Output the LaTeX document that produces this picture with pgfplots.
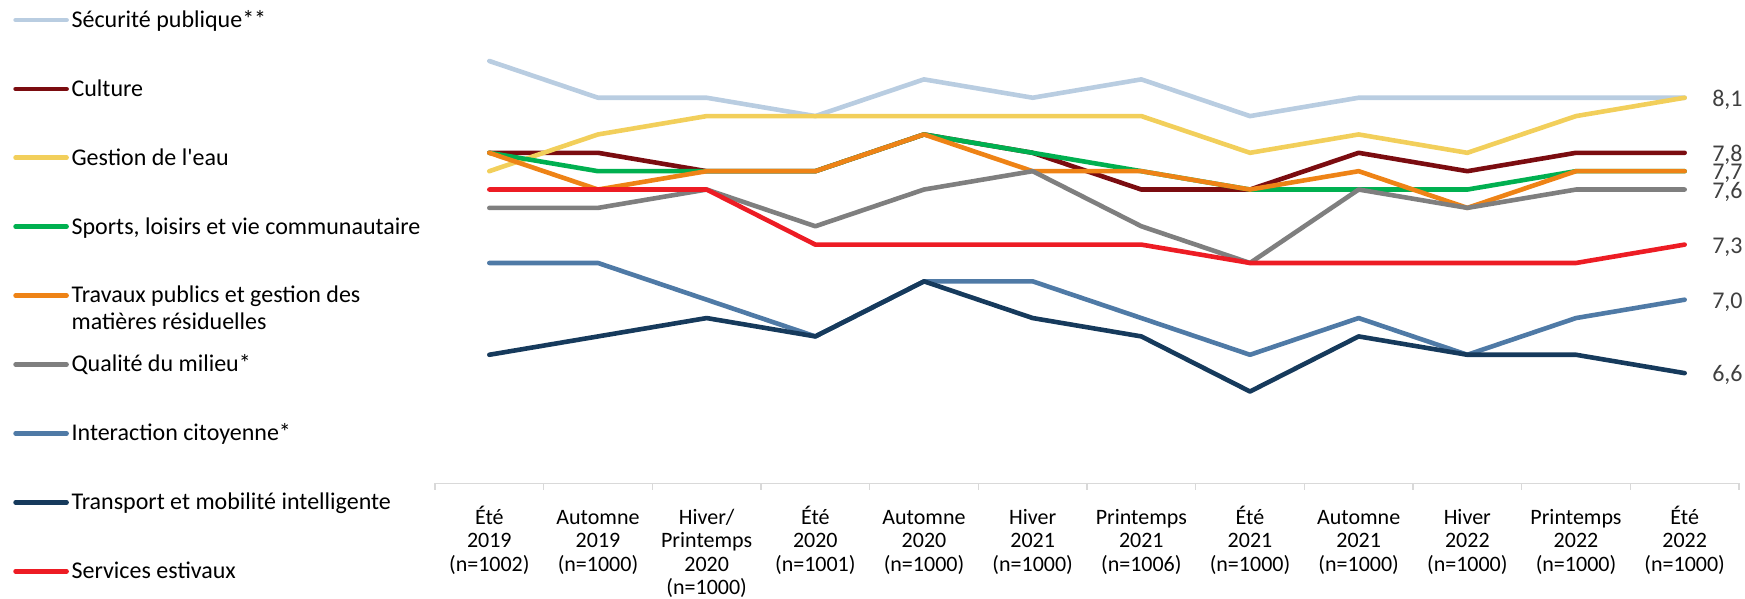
\documentclass[border=0pt]{standalone}
\usepackage{fontspec}
\setmainfont{Carlito}
\usepackage{pgfplots}
\pgfplotsset{compat=1.18}
\definecolor{cSec}{HTML}{B9CDE1}
\definecolor{cCul}{HTML}{7B0C10}
\definecolor{cEau}{HTML}{F2CF5B}
\definecolor{cSpo}{HTML}{00B050}
\definecolor{cTra}{HTML}{EE8316}
\definecolor{cQua}{HTML}{7F7F7F}
\definecolor{cInt}{HTML}{4F7AA6}
\definecolor{cTrp}{HTML}{163A5C}
\definecolor{cSer}{HTML}{ED1C24}
\definecolor{gridgray}{HTML}{D9D9D9}
\definecolor{lblgray}{HTML}{404040}
\newcommand{\fs}{\rule{0pt}{10pt}}
\tikzset{lbl/.style={anchor=base west, xshift=12.65pt, yshift=-4.25pt, inner sep=0pt, text=lblgray, font=\fontsize{12}{13}\selectfont}}
\begin{document}
\begin{tikzpicture}
\path[use as bounding box] (-217.5pt,-57.85pt) rectangle (655pt,241.65pt);
\begin{axis}[
  at={(0pt,0pt)}, anchor=south west,
  scale only axis, width=652pt, height=229.5pt,
  xmin=-0.5, xmax=11.5, ymin=6, ymax=8.5,
  clip=false,
  axis y line=none, axis x line*=bottom,
  axis line style={draw=gridgray, line width=0.75pt},
  ytick={6,6.5,7,7.5,8,8.5}, yticklabel=\empty, ytick style={draw=none},
  ymajorgrids, major grid style={draw=gridgray, line width=0.75pt},
  xtick={0,...,11}, major tick length=0pt,
  minor xtick={-0.5,0.5,...,11.5}, minor tick length=3.3pt,
  xtick align=outside,
  minor tick style={draw=gridgray, line width=0.75pt},
  xticklabels={
    {\fs Été\\2019\\(n=1002)},
    {\fs Automne\\2019\\(n=1000)},
    {\fs Hiver/\\Printemps\\2020\\(n=1000)},
    {\fs Été\\2020\\(n=1001)},
    {\fs Automne\\2020\\(n=1000)},
    {\fs Hiver\\2021\\(n=1000)},
    {\fs Printemps\\2021\\(n=1006)},
    {\fs Été\\2021\\(n=1000)},
    {\fs Automne\\2021\\(n=1000)},
    {\fs Hiver\\2022\\(n=1000)},
    {\fs Printemps\\2022\\(n=1000)},
    {\fs Été\\2022\\(n=1000)}},
  xticklabel style={font=\fontsize{11}{11.8}\selectfont, align=center, anchor=north, inner sep=0pt, yshift=-10.2pt},
  legend cell align=left,
  legend style={at={(0,1)}, anchor=north west, xshift=-210.85pt, yshift=10.5pt,
    draw=none, fill=none, inner sep=0pt, outer sep=0pt,
    row sep=17.75pt, column sep=1.35pt,
    font=\fontsize{12}{13.4}\selectfont,
    nodes={inner sep=0pt, text height=12pt, text depth=4.7pt}},
  legend image code/.code={\draw[#1, line cap=round] (0pt,0pt) -- (25.5pt,0pt);},
  every axis plot/.append style={line width=2.3pt, line cap=round, line join=round, no markers}
]
\addplot[cSec] coordinates {(0,8.3) (1,8.1) (2,8.1) (3,8.0) (4,8.2) (5,8.1) (6,8.2) (7,8.0) (8,8.1) (9,8.1) (10,8.1) (11,8.1)};
\addlegendentry{Sécurité publique**}
\addplot[cCul] coordinates {(0,7.8) (1,7.8) (2,7.7) (3,7.7) (4,7.9) (5,7.8) (6,7.6) (7,7.6) (8,7.8) (9,7.7) (10,7.8) (11,7.8)} node[pos=1, lbl] {7,8};
\addlegendentry{Culture}
\addplot[cEau] coordinates {(0,7.7) (1,7.9) (2,8.0) (3,8.0) (4,8.0) (5,8.0) (6,8.0) (7,7.8) (8,7.9) (9,7.8) (10,8.0) (11,8.1)} node[pos=1, lbl] {8,1};
\addlegendentry{Gestion de l\textquotesingle eau}
\addplot[cSpo] coordinates {(0,7.8) (1,7.7) (2,7.7) (3,7.7) (4,7.9) (5,7.8) (6,7.7) (7,7.6) (8,7.6) (9,7.6) (10,7.7) (11,7.7)};
\addlegendentry{Sports, loisirs et vie communautaire}
\addplot[cTra] coordinates {(0,7.8) (1,7.6) (2,7.7) (3,7.7) (4,7.9) (5,7.7) (6,7.7) (7,7.6) (8,7.7) (9,7.5) (10,7.7) (11,7.7)} node[pos=1, lbl] {7,7};
\addlegendentry{\smash{\parbox[t]{6cm}{Travaux publics et gestion des\\matières résiduelles}}}
\addplot[cQua] coordinates {(0,7.5) (1,7.5) (2,7.6) (3,7.4) (4,7.6) (5,7.7) (6,7.4) (7,7.2) (8,7.6) (9,7.5) (10,7.6) (11,7.6)} node[pos=1, lbl] {7,6};
\addlegendentry{Qualité du milieu*}
\addplot[cInt] coordinates {(0,7.2) (1,7.2) (2,7.0) (3,6.8) (4,7.1) (5,7.1) (6,6.9) (7,6.7) (8,6.9) (9,6.7) (10,6.9) (11,7.0)} node[pos=1, lbl] {7,0};
\addlegendentry{Interaction citoyenne*}
\addplot[cTrp] coordinates {(0,6.7) (1,6.8) (2,6.9) (3,6.8) (4,7.1) (5,6.9) (6,6.8) (7,6.5) (8,6.8) (9,6.7) (10,6.7) (11,6.6)} node[pos=1, lbl] {6,6};
\addlegendentry{Transport et mobilité intelligente}
\addplot[cSer] coordinates {(0,7.6) (1,7.6) (2,7.6) (3,7.3) (4,7.3) (5,7.3) (6,7.3) (7,7.2) (8,7.2) (9,7.2) (10,7.2) (11,7.3)} node[pos=1, lbl] {7,3};
\addlegendentry{Services estivaux}
\end{axis}
\end{tikzpicture}
\end{document}
